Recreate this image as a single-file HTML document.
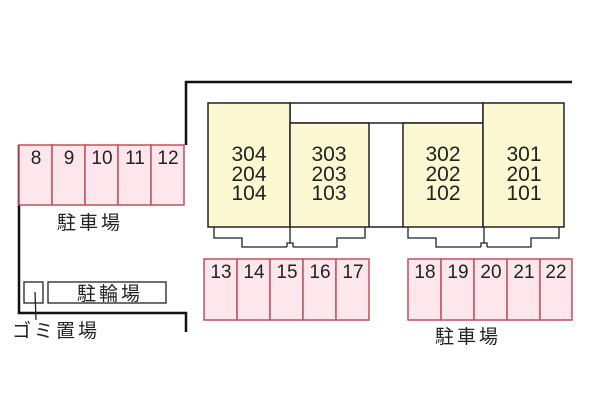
<!DOCTYPE html>
<html><head><meta charset="utf-8"><style>
body{margin:0;width:600px;height:400px;background:#fff;overflow:hidden}
svg text{font-family:"Liberation Sans","Noto Sans CJK JP",sans-serif;fill:#222}
</style></head><body>
<svg width="600" height="400" viewBox="0 0 600 400">
<g fill="none" stroke="#111" stroke-width="2.5">
<polyline points="186,145 186,82 572,82"/>
<polyline points="19,145 19,313 186,313 186,332"/>
</g>
<g fill="#fde6ec" stroke="#c0505e" stroke-width="1.5">
<rect x="19" y="145" width="33" height="60"/><rect x="52" y="145" width="33" height="60"/><rect x="85" y="145" width="33" height="60"/><rect x="118" y="145" width="33" height="60"/><rect x="151" y="145" width="33" height="60"/>
<rect x="204" y="259" width="33" height="61"/><rect x="237" y="259" width="33" height="61"/><rect x="270" y="259" width="33" height="61"/><rect x="303" y="259" width="33" height="61"/><rect x="336" y="259" width="33" height="61"/>
<rect x="408" y="259" width="33" height="61"/><rect x="441" y="259" width="33" height="61"/><rect x="474" y="259" width="33" height="61"/><rect x="507" y="259" width="33" height="61"/><rect x="540" y="259" width="32" height="61"/>
</g>
<g font-size="19" text-anchor="middle">
<text x="36" y="164">8</text><text x="69" y="164">9</text><text x="102" y="164">10</text><text x="135" y="164">11</text><text x="168" y="164">12</text>
<text x="221" y="278">13</text><text x="254" y="278">14</text><text x="287" y="278">15</text><text x="320" y="278">16</text><text x="353" y="278">17</text>
<text x="425" y="278">18</text><text x="458" y="278">19</text><text x="491" y="278">20</text><text x="524" y="278">21</text><text x="556" y="278">22</text>
</g>
<g stroke="#222" stroke-width="1.5">
<rect x="290" y="103" width="193" height="20" fill="#fff"/>
<rect x="208" y="103" width="82" height="124" fill="#fbf8d2"/>
<rect x="290" y="123" width="79" height="104" fill="#fbf8d2"/>
<rect x="403" y="123" width="80" height="104" fill="#fbf8d2"/>
<rect x="483" y="103" width="81" height="124" fill="#fbf8d2"/>
<line x1="369" y1="227" x2="403" y2="227"/>
</g>
<g fill="none" stroke="#222" stroke-width="1.3">
<polyline points="214,227 214,238 242,238 242,247 287,247"/>
<polyline points="293,247 337,247 337,238 365,238 365,227"/>
<polyline points="287,247 287,243 293,243 293,247"/>
<line x1="290" y1="227" x2="290" y2="243"/>
<polyline points="408,227 408,238 436,238 436,247 481,247"/>
<polyline points="487,247 531,247 531,238 559,238 559,227"/>
<polyline points="481,247 481,243 487,243 487,247"/>
<line x1="484" y1="227" x2="484" y2="243"/>
</g>
<g font-size="21" text-anchor="middle">
<text x="249" y="161">304</text><text x="249" y="181">204</text><text x="249" y="200">104</text>
<text x="329" y="161">303</text><text x="329" y="181">203</text><text x="329" y="200">103</text>
<text x="443" y="161">302</text><text x="443" y="181">202</text><text x="443" y="200">102</text>
<text x="524" y="161">301</text><text x="524" y="181">201</text><text x="524" y="200">101</text>
</g>
<g fill="#fff" stroke="#222" stroke-width="1.3">
<rect x="24" y="282" width="19" height="21"/>
<rect x="48" y="282" width="118" height="21"/>
<line x1="35" y1="292" x2="36" y2="320"/>
</g>
<g font-size="19" letter-spacing="3">
<text x="57" y="229">駐車場</text>
<text x="77" y="300">駐輪場</text>
<text x="12" y="337">ゴミ置場</text>
<text x="435" y="343">駐車場</text>
</g>
</svg>
</body></html>
